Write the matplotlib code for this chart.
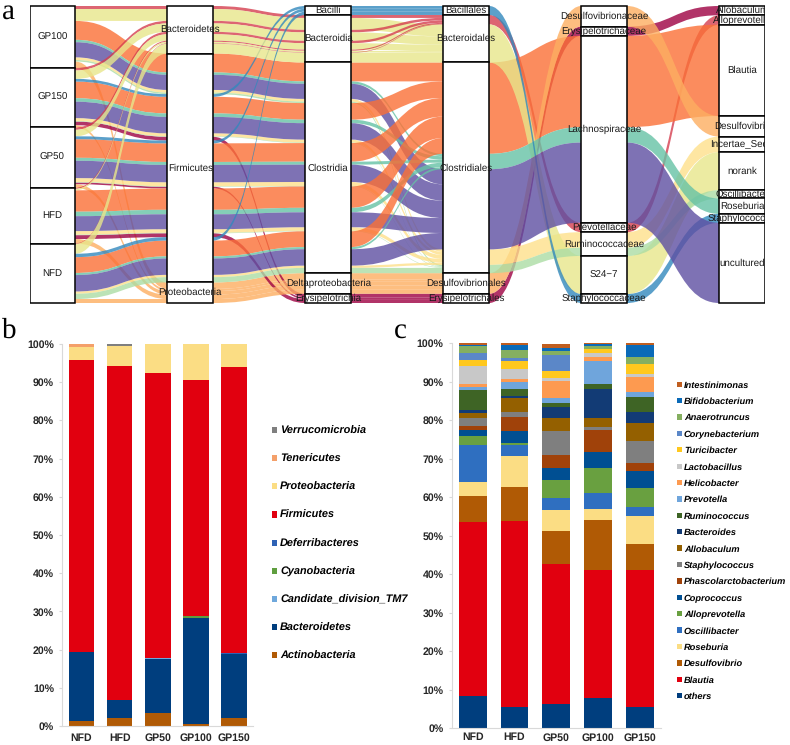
import numpy as np
import matplotlib
matplotlib.use("Agg")
import matplotlib.pyplot as plt
from matplotlib.path import Path
from matplotlib.patches import PathPatch, Rectangle

plt.rcParams['font.family'] = ['Liberation Sans', 'DejaVu Sans']
plt.rcParams['text.hinting'] = 'no_hinting'

W, H = 790, 745

# ---- panel a: abundance per group and genus
groups = ["GP100", "GP150", "GP50", "HFD", "NFD"]
phyla = ["Bacteroidetes", "Firmicutes", "Proteobacteria"]
classes = ["Bacilli", "Bacteroidia", "Clostridia", "Deltaproteobacteria", "Erysipelotrichia"]
orders = ["Bacillales", "Bacteroidales", "Clostridiales", "Desulfovibrionales", "Erysipelotrichales"]
families = ["Desulfovibrionaceae", "Erysipelotrichaceae", "Lachnospiraceae", "Prevotellaceae",
            "Ruminococcaceae", "S24\u22127", "Staphylococcaceae"]
genera = ["Allobaculum", "Alloprevotella", "Blautia", "Desulfovibrio", "Incertae_Sedis",
          "norank", "Oscillibacter", "Roseburia", "Staphylococcus", "uncultured"]
genus_phylum = [1, 0, 1, 2, 1, 0, 1, 1, 1, 1]
genus_class = [4, 1, 2, 3, 2, 1, 2, 2, 0, 2]
genus_order = [4, 1, 2, 3, 2, 1, 2, 2, 0, 2]
genus_family = [1, 3, 2, 0, 4, 5, 4, 2, 6, 2]
genus_colors = ["#9E0142", "#D53E4F", "#FB7036", "#FDAE61", "#FEE08B",
                "#E8E68B", "#ABDDA4", "#66C2A5", "#3288BD", "#5E4FA2"]
abund_gp100 = [0.0, 3.0, 19.0, 6.5, 2.7, 12.0, 1.5, 2.4, 0.0, 15.2]
abund_gp150 = [3.7, 2.5, 16.7, 2.2, 3.0, 8.5, 0.5, 3.5, 2.7, 16.5]
abund_gp50 = [1.7, 2.4, 18.7, 3.5, 4.0, 6.5, 0.5, 3.0, 2.9, 17.4]
abund_hfd = [3.9, 1.1, 21.5, 4.5, 3.6, 1.5, 0.5, 4.5, 0.0, 15.0]
abund_nfd = [0.0, 0.5, 15.9, 4.0, 2.3, 9.8, 5.3, 2.1, 3.4, 16.5]
abund = np.array([abund_gp100, abund_gp150, abund_gp50, abund_hfd, abund_nfd])

# ---- panel b
samples = ["NFD", "HFD", "GP50", "GP100", "GP150"]
phylum_names = ["Actinobacteria", "Bacteroidetes", "Candidate_division_TM7", "Cyanobacteria",
                "Deferribacteres", "Firmicutes", "Proteobacteria", "Tenericutes", "Verrucomicrobia"]
phylum_colors = ["#B05A05", "#003E7E", "#6FA8DC", "#5F9E3F", "#2F62B5",
                 "#E1000F", "#FBDD84", "#F4A06A", "#7F7F7F"]
phylum_nfd = [1.3, 18.2, 0, 0, 0, 76.3, 3.5, 0.7, 0]
phylum_hfd = [2.0, 4.8, 0, 0, 0, 87.4, 5.3, 0.1, 0.4]
phylum_gp50 = [3.4, 14.2, 0.1, 0.1, 0, 74.5, 7.7, 0, 0]
phylum_gp100 = [0.5, 27.9, 0, 0.4, 0, 61.8, 9.4, 0, 0]
phylum_gp150 = [2.1, 16.8, 0, 0, 0.1, 74.9, 6.1, 0, 0]
phylum_vals = np.array([phylum_nfd, phylum_hfd, phylum_gp50, phylum_gp100, phylum_gp150])

# ---- panel c
bar_genera = ["others", "Blautia", "Desulfovibrio", "Roseburia", "Oscillibacter", "Alloprevotella",
              "Coprococcus", "Phascolarctobacterium", "Staphylococcus", "Allobaculum", "Bacteroides",
              "Ruminococcus", "Prevotella", "Helicobacter", "Lactobacillus", "Turicibacter",
              "Corynebacterium", "Anaerotruncus", "Bifidobacterium", "Intestinimonas"]
bar_colors = ["#003E7E", "#E1000F", "#B05A05", "#FBDD84", "#2F6FC0", "#69A040", "#004F92", "#A0420A",
              "#7F7F7F", "#946000", "#123B75", "#3E6425", "#6FA5DC", "#FD9A50", "#C8C8C8", "#FFC81E",
              "#5B87C8", "#85AF60", "#0A6AB8", "#C05E20"]
genus_nfd = [8.3, 45.3, 6.8, 3.6, 9.7, 2.3, 1.6, 0.9, 2.2, 1.1, 1.0, 5.0, 0.9, 0.7, 4.8, 1.5, 1.8, 1.7, 0.4, 0.4]
genus_hfd = [5.6, 48.3, 8.8, 8.1, 2.7, 0.7, 2.9, 3.8, 1.2, 3.6, 0.7, 1.8, 1.7, 0.9, 2.4, 2.2, 0.9, 1.9, 1.3, 0.5]
genus_gp50 = [6.4, 36.4, 8.4, 5.4, 3.1, 4.8, 3.0, 3.5, 6.2, 3.4, 2.8, 1.0, 1.4, 4.3, 1.0, 1.6, 4.3, 0.9, 1.0, 1.0]
genus_gp100 = [7.9, 33.3, 12.8, 3.0, 4.0, 6.6, 4.2, 5.6, 0.9, 2.4, 7.5, 1.1, 6.1, 1.1, 1.0, 0.9, 0.1, 0.9, 0.3, 0.4]
genus_gp150 = [5.6, 35.4, 6.8, 7.4, 2.3, 5.0, 4.3, 2.0, 5.7, 4.9, 2.7, 3.9, 1.3, 3.9, 0.8, 2.7, 0.0, 1.7, 3.1, 0.5]
genus_vals = np.array([genus_nfd, genus_hfd, genus_gp50, genus_gp100, genus_gp150])


def pixel_axes(fig, left, top, right, bottom):
    return fig.add_axes([left / W, 1 - bottom / H, (right - left) / W, (bottom - top) / H])


def ribbon(ax, x0, x1, top0, bot0, top1, bot1, color):
    xm = (x0 + x1) / 2
    verts = [(x0, top0), (xm, top0), (xm, top1), (x1, top1),
             (x1, bot1), (xm, bot1), (xm, bot0), (x0, bot0), (x0, top0)]
    codes = [Path.MOVETO, Path.CURVE4, Path.CURVE4, Path.CURVE4, Path.LINETO,
             Path.CURVE4, Path.CURVE4, Path.CURVE4, Path.CLOSEPOLY]
    ax.add_patch(PathPatch(Path(verts, codes), facecolor=color, edgecolor="none", alpha=0.8, zorder=2))


def draw_alluvial(ax):
    node_w = 0.331
    total = abund.sum()
    pad = total / 297
    ax.set_xlim(0, 5 + node_w)
    ax.set_ylim(total + pad, -pad)
    ax.axis("off")

    # flows keyed by (group, genus), each column has its own stacking order
    flows = [(g, k) for g in range(len(groups)) for k in range(len(genera))]
    tax = lambda k: (genus_phylum[k], genus_class[k], genus_order[k], genus_family[k], k)
    sort_keys = [
        lambda f: (f[0],) + tax(f[1]),
        lambda f: (genus_phylum[f[1]], f[0]) + tax(f[1]),
        lambda f: (genus_class[f[1]], f[0]) + tax(f[1]),
        lambda f: (genus_order[f[1]], genus_family[f[1]], f[1], f[0]),
        lambda f: (genus_family[f[1]], f[1], f[0]),
        lambda f: (f[1], f[0]),
    ]
    node_of = [
        lambda f: f[0],
        lambda f: genus_phylum[f[1]],
        lambda f: genus_class[f[1]],
        lambda f: genus_order[f[1]],
        lambda f: genus_family[f[1]],
        lambda f: f[1],
    ]
    names = [groups, phyla, classes, orders, families, genera]

    tops = []
    for col in range(6):
        y = 0.0
        col_tops = {}
        spans = {}
        for f in sorted(flows, key=sort_keys[col]):
            v = abund[f]
            col_tops[f] = y
            n = node_of[col](f)
            lo, hi = spans.get(n, (y, y))
            spans[n] = (lo, y + v)
            y += v
        tops.append(col_tops)
        for n, (lo, hi) in spans.items():
            ax.add_patch(Rectangle((col, lo), node_w, hi - lo, facecolor="white",
                                   edgecolor="black", lw=1.1, zorder=3))
            ax.text(col + node_w / 2, (lo + hi) / 2, names[col][n], ha="center", va="center",
                    fontsize=7, color="#1a1a1a", zorder=4, clip_on=(col == 5))

    # group wise ribbons up to the order column
    for col in range(3):
        for f in flows:
            v = abund[f]
            if v <= 0:
                continue
            ribbon(ax, col + node_w, col + 1, tops[col][f], tops[col][f] + v,
                   tops[col + 1][f], tops[col + 1][f] + v, genus_colors[f[1]])
    # genus wise ribbons after that
    for col in range(3, 5):
        for k in range(len(genera)):
            fs = [f for f in flows if f[1] == k]
            v = sum(abund[f] for f in fs)
            t0 = min(tops[col][f] for f in fs)
            t1 = min(tops[col + 1][f] for f in fs)
            ribbon(ax, col + node_w, col + 1, t0, t0 + v, t1, t1 + v, genus_colors[k])


def draw_stacked(ax, values, colors, names, label_pad):
    x = np.arange(len(samples))
    bottom = np.zeros(len(samples))
    handles = []
    for i, name in enumerate(names):
        bars = ax.bar(x, values[:, i], 0.665, bottom=bottom, color=colors[i], label=name)
        handles.append(bars)
        bottom += values[:, i]
    ax.set_xlim(-0.5, 4.5)
    ax.set_ylim(0, 100)
    ax.set_xticks(x)
    ax.set_xticklabels(samples, fontweight="bold", fontsize=7.6, color="#262626")
    ax.set_yticks(np.arange(0, 101, 10))
    ax.set_yticklabels(["%d%%" % t for t in range(0, 101, 10)], fontweight="bold",
                       fontsize=7.6, color="#262626")
    ax.tick_params(axis="x", length=0, pad=label_pad)
    ax.tick_params(axis="y", length=2, color="#D9D9D9", pad=4)
    for s in ["top", "right"]:
        ax.spines[s].set_visible(False)
    for s in ["left", "bottom"]:
        ax.spines[s].set_color("#D9D9D9")
    return handles


def add_legend(fig, ax, handles, names, px_x, px_top, fontsize, spacing, textpad):
    ax.legend(handles[::-1], names[::-1], loc="upper left", frameon=False,
              bbox_to_anchor=(px_x / W, 1 - px_top / H), bbox_transform=fig.transFigure,
              prop={"size": fontsize, "weight": "bold", "style": "italic"},
              handlelength=0.5, handleheight=0.5, handletextpad=textpad,
              labelspacing=spacing, borderpad=0, borderaxespad=0)


def main():
    fig = plt.figure(figsize=(W / 100, H / 100), dpi=100)

    ax_a = pixel_axes(fig, 29.5, 5, 765, 304)
    draw_alluvial(ax_a)

    ax_b = pixel_axes(fig, 62.3, 344, 253.3, 726)
    h_b = draw_stacked(ax_b, phylum_vals, phylum_colors, phylum_names, 5)
    add_legend(fig, ax_b, h_b, phylum_names, 272, 426, 7.8, 1.65, 0.25)

    ax_c = pixel_axes(fig, 452, 343.3, 660.5, 728.3)
    h_c = draw_stacked(ax_c, genus_vals, bar_colors, bar_genera, 3)
    add_legend(fig, ax_c, h_c, bar_genera, 677, 381, 6.7, 0.86, 0.25)

    for letter, px, py in [("a", 2, 19), ("b", 2, 338), ("c", 394, 338)]:
        fig.text(px / W, 1 - py / H, letter, family="Liberation Serif", fontsize=21,
                 ha="left", va="baseline", color="black")

    fig.savefig("out.png", dpi=100)


if __name__ == "__main__":
    main()
